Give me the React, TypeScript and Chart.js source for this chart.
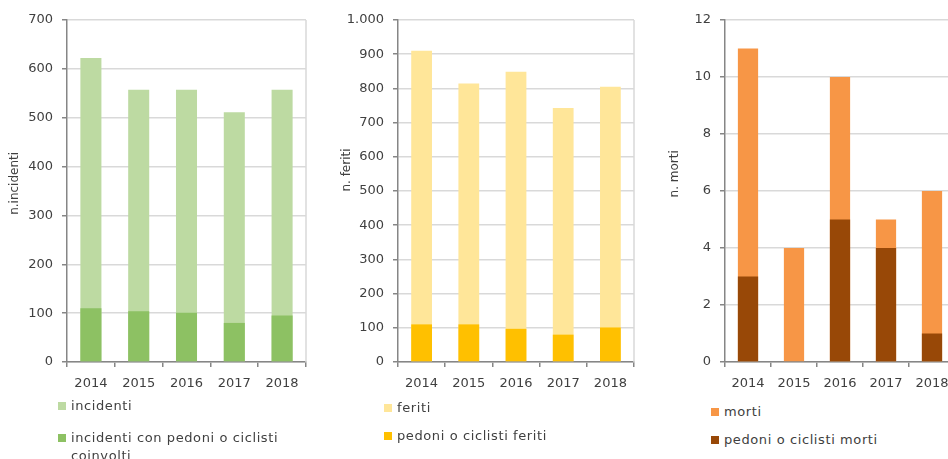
import React, { useEffect, useRef } from "react";
import { Chart, registerables } from "chart.js";

Chart.register(...registerables);

const years = ["2014", "2015", "2016", "2017", "2018"];

const incidenti = [622, 557, 557, 511, 557];
const incidentiPedoni = [110, 104, 101, 80, 95];

const feriti = [910, 814, 849, 743, 805];
const feritiPedoni = [110, 110, 97, 80, 101];

const morti = [11, 4, 10, 5, 6];
const mortiPedoni = [3, 0, 5, 4, 1];

const FONT = "'DejaVu Sans', sans-serif";
const TEXT = "#404040";

const rightBorder = {
  id: "rightBorder",
  afterDraw(chart: any) {
    const { ctx, chartArea } = chart;
    ctx.save();
    ctx.strokeStyle = "#D9D9D9";
    ctx.lineWidth = 1.5;
    ctx.beginPath();
    ctx.moveTo(chartArea.right, chartArea.top);
    ctx.lineTo(chartArea.right, chartArea.bottom);
    ctx.stroke();
    ctx.restore();
  },
};

type Spec = {
  left: number;
  width: number;
  axisWidth: number;
  padRight: number;
  titlePad: number;
  titleShift: number;
  title: string;
  max: number;
  step: number;
  light: number[];
  dark: number[];
  lightLabel: string;
  darkLabel: string;
  lightColor: string;
  darkColor: string;
  fmt: (v: number) => string;
};

function BarPanel({ s }: { s: Spec }) {
  const ref = useRef<HTMLCanvasElement>(null);
  useEffect(() => {
    if (!ref.current) return;
    const chart = new Chart(ref.current, {
      type: "bar",
      data: {
        labels: years,
        datasets: [
          {
            label: s.darkLabel,
            data: s.dark,
            backgroundColor: s.darkColor,
            grouped: false,
            categoryPercentage: 1,
            barPercentage: 0.44,
          },
          {
            label: s.lightLabel,
            data: s.light,
            backgroundColor: s.lightColor,
            grouped: false,
            categoryPercentage: 1,
            barPercentage: 0.44,
          },
        ],
      },
      options: {
        responsive: false,
        animation: false,
        layout: { padding: { top: 20, right: s.padRight, left: 0, bottom: 0 } },
        plugins: { legend: { display: false }, tooltip: { enabled: false } },
        scales: {
          x: {
            afterFit: (sc: any) => {
              sc.height = 38;
            },
            grid: {
              display: true,
              drawOnChartArea: false,
              drawTicks: true,
              tickLength: 5,
              color: "#868686",
              lineWidth: 1.5,
            },
            border: { color: "#868686", width: 1.5 },
            ticks: { color: TEXT, font: { family: FONT, size: 13 }, padding: 9 },
          },
          y: {
            min: 0,
            max: s.max,
            afterFit: (sc: any) => {
              sc.width = s.axisWidth;
            },
            ticks: {
              stepSize: s.step,
              color: TEXT,
              font: { family: FONT, size: 13 },
              padding: 9,
              callback: (v: any) => s.fmt(Number(v)),
            },
            grid: {
              color: "#D9D9D9",
              lineWidth: 1.5,
              tickColor: "#868686",
              tickLength: 5,
            },
            border: { color: "#868686", width: 1.5 },
            title: {
              display: true,
              text: " ".repeat(s.titleShift) + s.title,
              color: TEXT,
              font: { family: FONT, size: 12 },
              padding: { top: s.titlePad, bottom: 0 },
            },
          },
        },
      },
      plugins: [rightBorder],
    });
    return () => chart.destroy();
  }, []);
  return (
    <canvas
      ref={ref}
      width={s.width}
      height={400}
      style={{ position: "absolute", left: s.left, top: 0, width: s.width, height: 400 }}
    />
  );
}

function LegendItem({
  x,
  y,
  color,
  text,
  width,
}: {
  x: number;
  y: number;
  color: string;
  text: string;
  width: number;
}) {
  return (
    <div style={{ position: "absolute", left: x, top: y - 4, width, display: "flex", alignItems: "flex-start" }}>
      <div style={{ width: 8, height: 8, background: color, flex: "0 0 8px", marginTop: 0 }} />
      <div
        style={{
          marginLeft: 5,
          marginTop: -5,
          fontFamily: FONT,
          fontSize: 13,
          color: TEXT,
          lineHeight: "18px",
          letterSpacing: 0.6,
        }}
      >
        {text}
      </div>
    </div>
  );
}

const fmtPlain = (v: number) => String(v);
const fmtThousands = (v: number) =>
  v >= 1000 ? String(v).replace(/\B(?=(\d{3})+(?!\d))/g, ".") : String(v);

export default function App() {
  const specs: Spec[] = [
    {
      left: 0,
      width: 320,
      axisWidth: 67,
      padRight: 14,
      titlePad: 8,
      titleShift: 4,
      title: "n.incidenti",
      max: 700,
      step: 100,
      light: incidenti,
      dark: incidentiPedoni,
      lightLabel: "incidenti",
      darkLabel: "incidenti con pedoni o ciclisti coinvolti",
      lightColor: "#BDDAA2",
      darkColor: "#8DC163",
      fmt: fmtPlain,
    },
    {
      left: 320,
      width: 320,
      axisWidth: 78,
      padRight: 6,
      titlePad: 20,
      titleShift: 11,
      title: "n. feriti",
      max: 1000,
      step: 100,
      light: feriti,
      dark: feritiPedoni,
      lightLabel: "feriti",
      darkLabel: "pedoni o ciclisti feriti",
      lightColor: "#FFE699",
      darkColor: "#FFC000",
      fmt: fmtThousands,
    },
    {
      left: 640,
      width: 330,
      axisWidth: 85,
      padRight: 15,
      titlePad: 28,
      titleShift: 9,
      title: "n. morti",
      max: 12,
      step: 2,
      light: morti,
      dark: mortiPedoni,
      lightLabel: "morti",
      darkLabel: "pedoni o ciclisti morti",
      lightColor: "#F79646",
      darkColor: "#984807",
      fmt: fmtPlain,
    },
  ];
  return (
    <div
      style={{
        position: "fixed",
        left: 0,
        top: 0,
        width: 948,
        height: 459,
        overflow: "hidden",
        background: "#fff",
      }}
    >
      {specs.map((s, i) => (
        <BarPanel key={i} s={s} />
      ))}
      <LegendItem x={58} y={406} color={specs[0].lightColor} text={specs[0].lightLabel} width={260} />
      <LegendItem x={58} y={438} color={specs[0].darkColor} text={specs[0].darkLabel} width={255} />
      <LegendItem x={384} y={408} color={specs[1].lightColor} text={specs[1].lightLabel} width={250} />
      <LegendItem x={384} y={436} color={specs[1].darkColor} text={specs[1].darkLabel} width={250} />
      <LegendItem x={711} y={412} color={specs[2].lightColor} text={specs[2].lightLabel} width={237} />
      <LegendItem x={711} y={440} color={specs[2].darkColor} text={specs[2].darkLabel} width={237} />
    </div>
  );
}
